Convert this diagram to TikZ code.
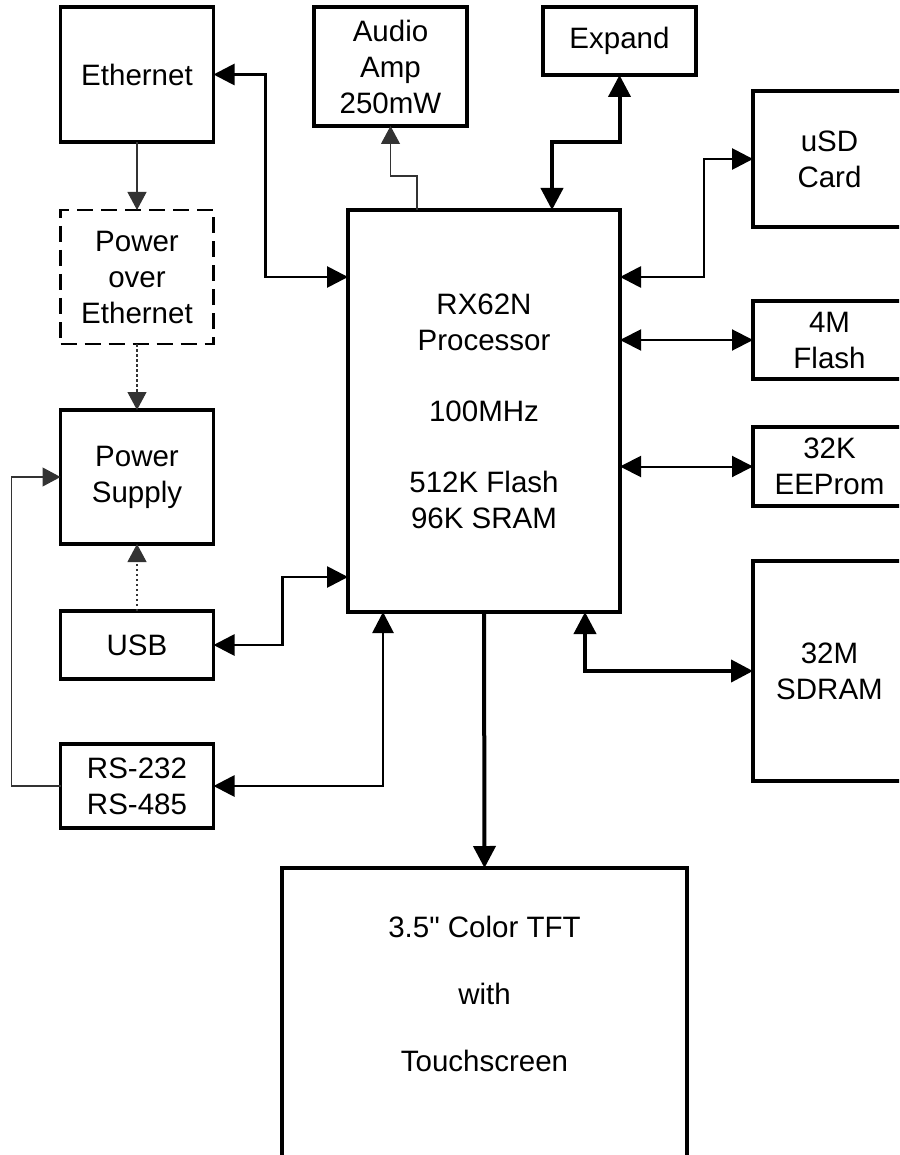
\documentclass[tikz,border=0pt]{standalone}
\usepackage{fontspec}
\setmainfont{Liberation Sans}
\usepackage{tikz}
\usetikzlibrary{arrows.meta, positioning}

\begin{document}
\begin{tikzpicture}[
  x=1pt, y=-1pt,
  block/.style={rectangle, draw=black, line width=3.5pt, align=center,
             inner sep=0pt, outer sep=0pt, minimum width=153pt,
             font=\fontsize{29.5}{36}\selectfont},
  dashblock/.style={block, line width=2.8pt, dash pattern=on 16pt off 8pt},
  bus/.style={line width=4pt, >={Triangle[length=22pt, width=22pt]}},
  link/.style={line width=2.8pt, >={Triangle[length=21pt, width=21pt]}},
  thinlink/.style={line width=2pt, >={Triangle[length=21pt, width=21pt]}},
  wire/.style={line width=1.1pt, draw=black!80, >={Triangle[length=18pt, width=19pt]}},
  dotwire/.style={wire, dash pattern=on 2.5pt off 2.5pt}
]
\useasboundingbox (0,0) rectangle (899,1155);
\clip (0,0) rectangle (899,1155);

% processor in the middle
\node[block, minimum width=272pt, minimum height=402pt] (cpu) at (484,411)
  {RX62N\\Processor\\[35pt]100MHz\\[35pt]512K Flash\\96K SRAM};

% left column
\node[block, minimum height=135pt] (eth) at (137,74.5) {Ethernet};
\node[dashblock, minimum height=134pt, below=68pt of eth] (poe) {Power\\over\\Ethernet};
\node[block, minimum height=134pt, below=66pt of poe] (ps) {Power\\Supply};
\node[block, minimum height=68pt, below=67pt of ps] (usb) {USB};
\node[block, minimum height=84pt, below=65pt of usb] (rs) {RS-232\\RS-485};

% top row
\node[block, minimum height=119pt] (aud) at (390.5,66.5) {Audio\\Amp\\250mW};
\node[block, minimum height=68pt] (exp) at (619.5,41) {Expand};

% right column
\node[block, minimum height=136pt] (usd) at (829.5,159) {uSD\\Card};
\node[block, minimum height=78pt, below=74pt of usd] (flash) {4M\\Flash};
\node[block, minimum height=79pt, below=48pt of flash] (eeprom) {32K\\EEProm};
\node[block, minimum height=220pt, below=55pt of eeprom] (sdram) {32M\\SDRAM};

% display
\node[block, minimum width=405pt, anchor=north, inner ysep=48pt, text depth=260pt]
  (tft) at (484.5,868) {3.5\textquotedbl{} Color TFT\\[31pt]with\\[31pt]Touchscreen};

% connections
\draw[link, <->] (eth.east) -- ++(52,0) |- ([yshift=-67pt]cpu.north west);
\draw[wire, ->] ([xshift=69pt]cpu.north west) -- ++(0,-34) -| (aud.south);
\draw[bus, <->] ([xshift=204pt]cpu.north west) -- ++(0,-68) -| (exp.south);
\draw[link, <->] ([yshift=-67pt]cpu.north east) -- ++(84,0) |- (usd.west);
\draw[thinlink, <->] (cpu.east |- flash.west) -- (flash.west);
\draw[thinlink, <->] (cpu.east |- eeprom.west) -- (eeprom.west);
\draw[bus, <->] ([xshift=-35pt]cpu.south east) |- (sdram.west);
\draw[bus, ->] (cpu.south) -- (tft.north);
\draw[link, <->] ([xshift=35pt]cpu.south west) |- (rs.east);
\draw[link, <->] (usb.east) -- ++(69,0) |- ([yshift=35pt]cpu.south west);

\draw[wire, ->] (eth) -- (poe);
\draw[dotwire, ->] (poe) -- (ps);
\draw[dotwire, ->] (usb) -- (ps);
\draw[wire, ->] (rs.west) -- ++(-49,0) |- (ps.west);

\end{tikzpicture}
\end{document}
